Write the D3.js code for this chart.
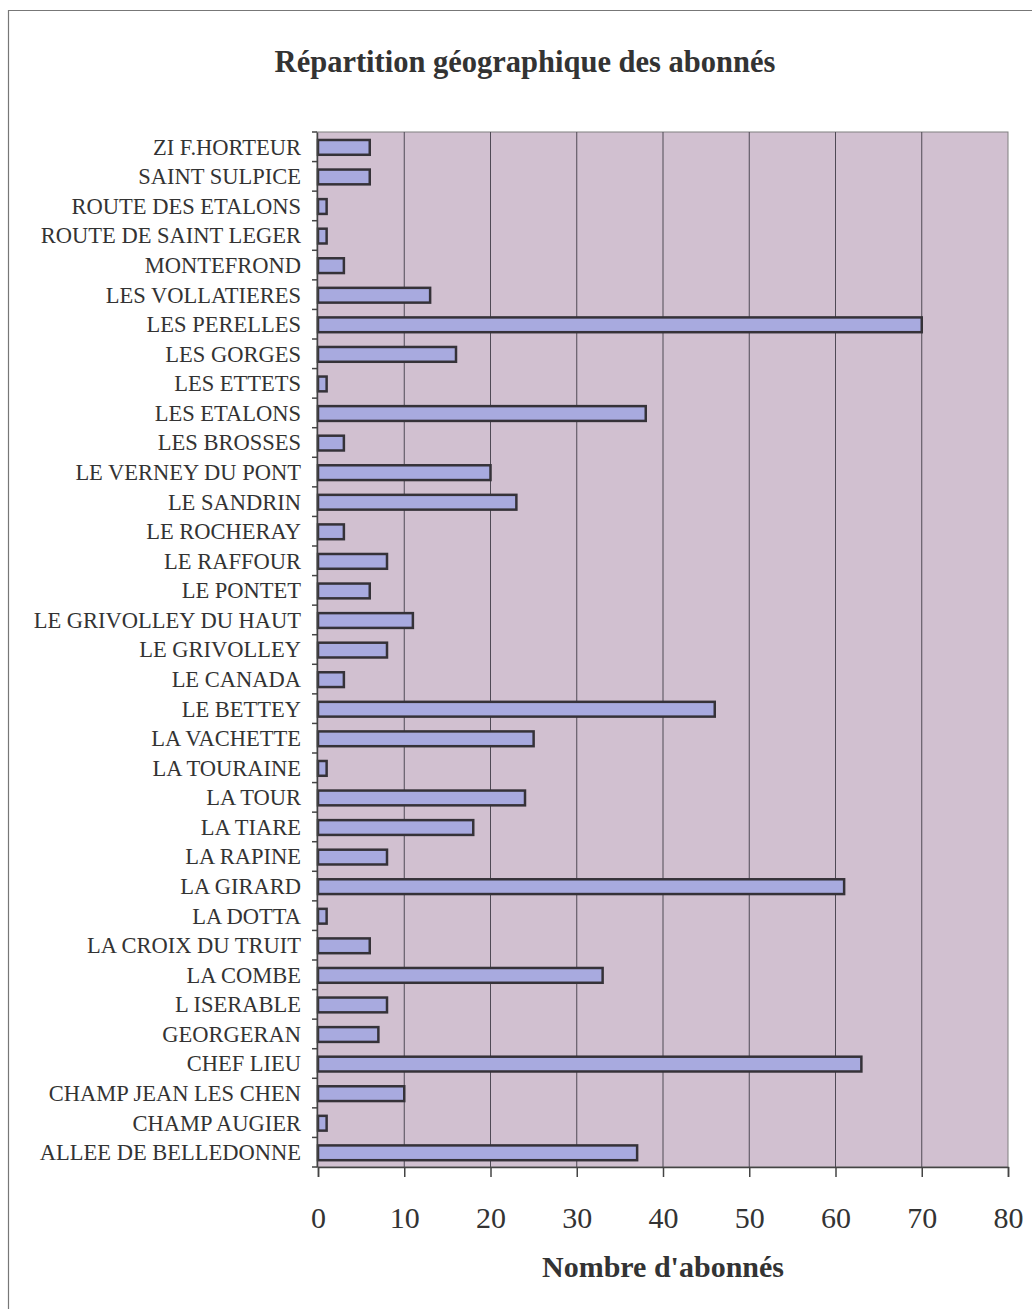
<!DOCTYPE html>
<html>
<head>
<meta charset="utf-8">
<script src="https://cdn.jsdelivr.net/npm/d3@7"></script>
<style>
  body { margin: 0; background: #fff; }
  svg { display: block; }
</style>
</head>
<body>
<svg id="chart"></svg>
<script>
// categories, top to bottom as in the chart
const quartiers = [
  "ZI F.HORTEUR", "SAINT SULPICE", "ROUTE DES ETALONS", "ROUTE DE SAINT LEGER",
  "MONTEFROND", "LES VOLLATIERES", "LES PERELLES", "LES GORGES", "LES ETTETS",
  "LES ETALONS", "LES BROSSES", "LE VERNEY DU PONT", "LE SANDRIN", "LE ROCHERAY",
  "LE RAFFOUR", "LE PONTET", "LE GRIVOLLEY DU HAUT", "LE GRIVOLLEY", "LE CANADA",
  "LE BETTEY", "LA VACHETTE", "LA TOURAINE", "LA TOUR", "LA TIARE", "LA RAPINE",
  "LA GIRARD", "LA DOTTA", "LA CROIX DU TRUIT", "LA COMBE", "L ISERABLE",
  "GEORGERAN", "CHEF LIEU", "CHAMP JEAN LES CHEN", "CHAMP AUGIER", "ALLEE DE BELLEDONNE"
];
const abonnes = [
  6, 6, 1, 1,
  3, 13, 70, 16, 1,
  38, 3, 20, 23, 3,
  8, 6, 11, 8, 3,
  46, 25, 1, 24, 18, 8,
  61, 1, 6, 33, 8,
  7, 63, 10, 1, 37
];
const xTicks = [0, 10, 20, 30, 40, 50, 60, 70, 80];

const titre = "Répartition géographique des abonnés";
const titreX = "Nombre d'abonnés";

const width = 1032, height = 1309;
const plot = {left: 317, right: 1008, top: 132, bottom: 1167};
const serif = "'Liberation Serif', 'Times New Roman', serif";

const svg = d3.select("#chart").attr("width", width).attr("height", height);

// outer frame (cut by the page edges)
svg.append("path")
  .attr("d", `M8.5,${height} V10.5 H${width}`)
  .attr("fill", "none")
  .attr("stroke", "#777")
  .attr("stroke-width", 1.2);

const x = d3.scaleLinear().domain([0, 80]).range([plot.left + 1, plot.right]);
const yRows = d3.scaleBand().domain(quartiers).range([plot.top, plot.bottom]);

// plot background
svg.append("rect")
  .attr("x", plot.left).attr("y", plot.top)
  .attr("width", plot.right - plot.left).attr("height", plot.bottom - plot.top)
  .attr("fill", "#d1c0d0")
  .attr("stroke", "#808080")
  .attr("stroke-width", 1);

// vertical gridlines
svg.append("g")
  .selectAll("line")
  .data(xTicks.slice(1, -1))
  .join("line")
  .attr("x1", d => x(d)).attr("x2", d => x(d))
  .attr("y1", plot.top).attr("y2", plot.bottom)
  .attr("stroke", "#4f4a55")
  .attr("stroke-width", 1);

// bars
svg.append("g")
  .selectAll("rect")
  .data(quartiers)
  .join("rect")
  .attr("x", x(0))
  .attr("y", (d) => yRows(d) + yRows.bandwidth() * 0.27)
  .attr("width", (d, i) => x(abonnes[i]) - x(0))
  .attr("height", yRows.bandwidth() * 0.5)
  .attr("fill", "#a8aadf")
  .attr("stroke", "#353238")
  .attr("stroke-width", 2.5);

// y axis
const yAxis = svg.append("g")
  .attr("transform", `translate(${plot.left},0)`)
  .call(d3.axisLeft(yRows).tickSize(0).tickPadding(16));
yAxis.attr("font-family", serif);
yAxis.select(".domain").attr("stroke", "#444").attr("stroke-width", 1.5);
yAxis.selectAll("text")
  .style("font-family", serif)
  .attr("font-size", 22.5)
  .attr("fill", "#333")
  .attr("dy", "0.35em");

// small ticks on category boundaries
yAxis.append("g")
  .selectAll("line")
  .data(quartiers.concat([null]))
  .join("line")
  .attr("x1", -5).attr("x2", 0)
  .attr("y1", (d, i) => plot.top + i * yRows.step())
  .attr("y2", (d, i) => plot.top + i * yRows.step())
  .attr("stroke", "#444")
  .attr("stroke-width", 1.5);

// x axis
const xAxis = svg.append("g")
  .attr("transform", `translate(0,${plot.bottom})`)
  .call(d3.axisBottom(x).tickValues(xTicks).tickSize(10).tickPadding(30).tickFormat(d3.format("d")));
xAxis.attr("font-family", serif);
xAxis.select(".domain").attr("stroke", "#444").attr("stroke-width", 1.5);
xAxis.selectAll(".tick line").attr("stroke", "#444").attr("stroke-width", 1.5);
xAxis.selectAll("text")
  .style("font-family", serif)
  .attr("font-size", 30)
  .attr("fill", "#333");

// titles
svg.append("text")
  .attr("x", 525).attr("y", 72)
  .attr("text-anchor", "middle")
  .style("font-family", serif)
  .attr("font-weight", "bold")
  .attr("font-size", 30.5)
  .attr("fill", "#333")
  .text(titre);

svg.append("text")
  .attr("x", 663).attr("y", 1277)
  .attr("text-anchor", "middle")
  .style("font-family", serif)
  .attr("font-weight", "bold")
  .attr("font-size", 30)
  .attr("fill", "#333")
  .text(titreX);
</script>
</body>
</html>
